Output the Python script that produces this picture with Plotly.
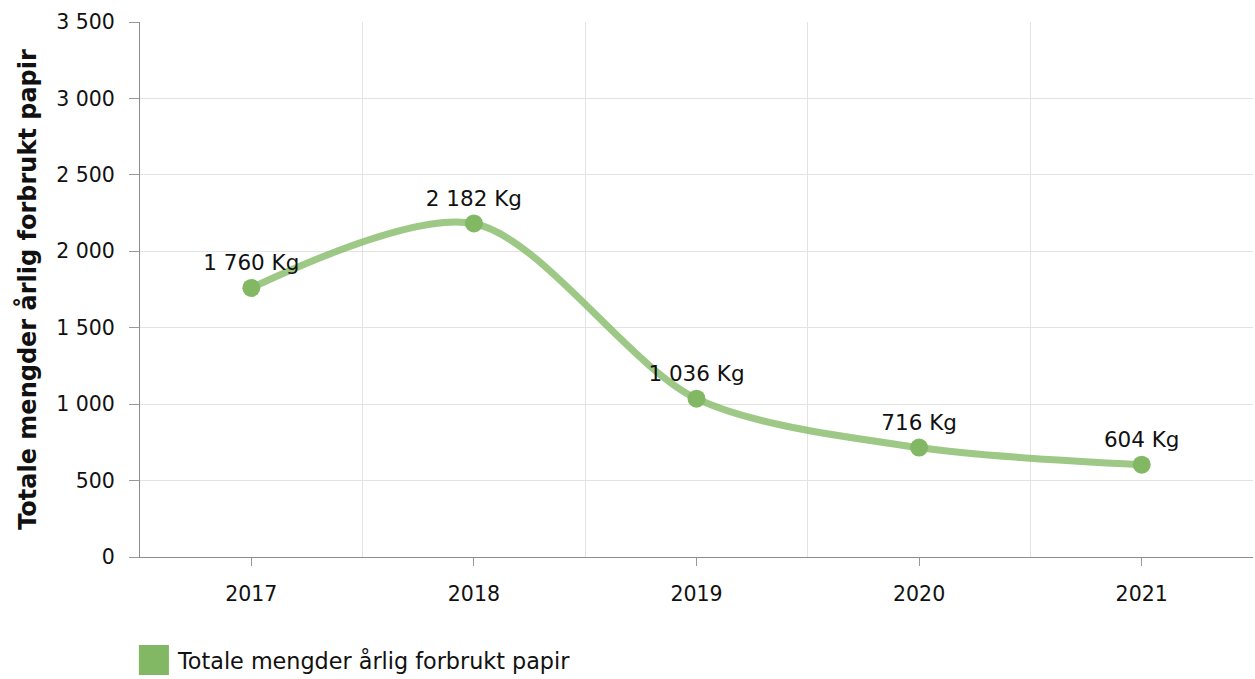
import plotly.graph_objects as go

years = ["2017", "2018", "2019", "2020", "2021"]
values = [1760, 2182, 1036, 716, 604]
series_name = "Totale mengder årlig forbrukt papir"
y_title = "Totale mengder årlig forbrukt papir"
y_ticks = [0, 500, 1000, 1500, 2000, 2500, 3000, 3500]

xs = list(range(len(years)))
font = "DejaVu Sans, Verdana, sans-serif"
green = "#82b864"

fig = go.Figure()
fig.add_trace(go.Scatter(
    x=xs, y=values, mode="lines",
    line=dict(shape="spline", smoothing=0.85, color="rgba(130,185,100,0.78)", width=7),
    showlegend=False, hoverinfo="skip",
))
fig.add_trace(go.Scatter(
    x=xs, y=values, mode="markers+text", name=series_name,
    marker=dict(color=green, size=18),
    texttemplate="%{y:,.0f} Kg", textposition="top center",
    textfont=dict(size=21.5, color="#111111", family=font),
    showlegend=False,
))

# custom legend (square swatch + label)
fig.add_shape(type="rect", xref="paper", yref="paper",
              x0=-0.001, x1=0.026, y0=-0.2206, y1=-0.1645,
              fillcolor=green, line=dict(width=0))
fig.add_annotation(xref="paper", yref="paper", x=0.031, y=-0.1935,
                   xanchor="left", yanchor="middle", showarrow=False,
                   text=series_name, font=dict(size=22.3, family=font, color="#111111"))

fig.update_layout(
    width=1255, height=679,
    margin=dict(l=140, r=2, t=22, b=122),
    plot_bgcolor="white", paper_bgcolor="white",
    separators=", ",
    showlegend=False,
    font=dict(family=font, size=20.5, color="#111111"),
    xaxis=dict(
        range=[-0.5, 4.5], tickmode="array", tickvals=xs, ticktext=years,
        showgrid=False, zeroline=False,
        showline=True, linecolor="#8c8c8c", linewidth=1,
        ticks="outside", ticklen=8, tickcolor="#999999",
        ticklabelstandoff=10,
        tickfont=dict(size=20.5),
        minor=dict(tickmode="array", tickvals=[0.5, 1.5, 2.5, 3.5], showgrid=True,
                   gridcolor="#e3e3e3", gridwidth=1, ticks=""),
    ),
    yaxis=dict(
        range=[0, 3500], tickmode="array", tickvals=y_ticks,
        tickformat=",.0f",
        showgrid=True, gridcolor="#e3e3e3", gridwidth=1, zeroline=False,
        showline=True, linecolor="#8c8c8c", linewidth=1,
        ticks="outside", ticklen=10, tickcolor="#999999",
        ticklabelstandoff=10,
        tickfont=dict(size=20.5),
        title=dict(text="<b>" + y_title + "</b>", font=dict(size=24, family=font), standoff=12),
    ),
)

fig.write_html("out.html", config={"displayModeBar": False},
               post_script="document.body.style.margin='0';")
